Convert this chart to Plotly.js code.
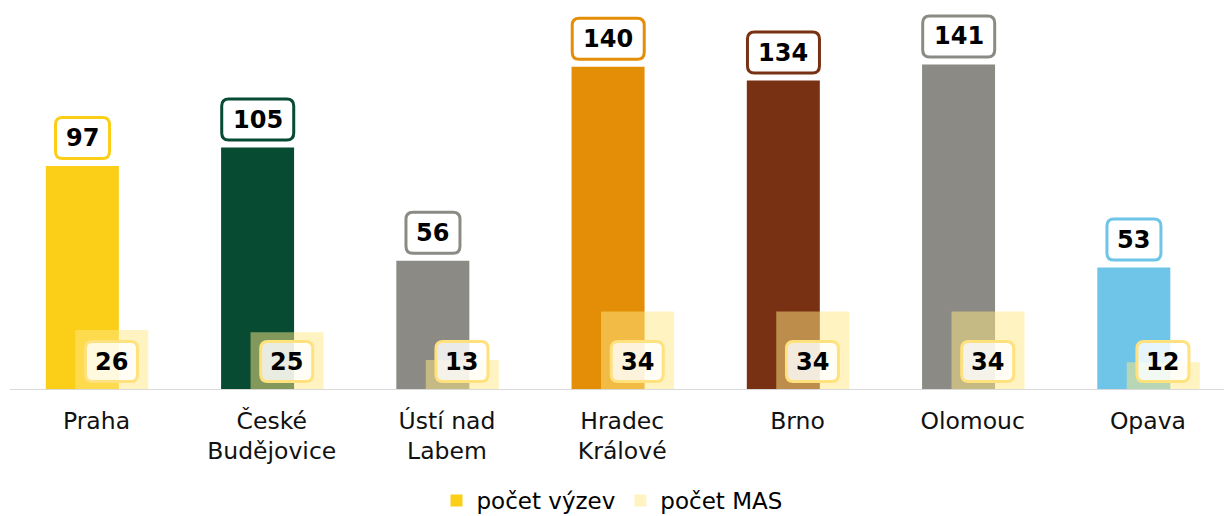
<!DOCTYPE html>
<html><head><meta charset="utf-8">
<script src="https://cdn.plot.ly/plotly-3.0.1.min.js"></script>
<style>html,body{margin:0;padding:0;background:#fff}#chart{width:1224px;height:516px}</style>
</head><body><div id="chart"></div>
<script>
const categories = ["Praha", "České<br>Budějovice", "Ústí nad<br>Labem", "Hradec<br>Králové", "Brno", "Olomouc", "Opava"];
const vyzev = [97, 105, 56, 140, 134, 141, 53];
const mas = [26, 25, 13, 34, 34, 34, 12];
const seriesNames = ["počet výzev", "počet MAS"];
const barColors = ["#FBCF17", "#064B32", "#8B8A84", "#E38E06", "#783213", "#8B8A84", "#6EC5E8"];
const masColor = "rgba(255,232,132,0.5)";
const masBorder = "#FFE27E";

const idx = categories.map((_, i) => i);
const font = "DejaVu Sans, Verdana, sans-serif";

function roundRect(cx, yb, w, h, r, s) {
  const x0 = cx - w/2 + s, x1 = cx + w/2 - s, y0 = yb + s, y1 = yb + h - s;
  return `M${x0+r},${y0} L${x1-r},${y0} Q${x1},${y0} ${x1},${y0+r} L${x1},${y1-r} Q${x1},${y1} ${x1-r},${y1} L${x0+r},${y1} Q${x0},${y1} ${x0},${y1-r} L${x0},${y0+r} Q${x0},${y0} ${x0+r},${y0} Z`;
}

const traces = [
  {type: "bar", name: seriesNames[0], x: idx, y: vyzev, marker: {color: barColors},
   width: 0.4166, offset: -0.289, hoverinfo: "none"},
  {type: "bar", name: seriesNames[1], x: idx, y: mas, marker: {color: masColor},
   width: 0.4166, offset: -0.121, hoverinfo: "none"}
];

const shapes = [
  {type: "line", xref: "paper", yref: "y", x0: 10/1224, x1: 1, y0: 0, y1: 0,
   line: {color: "#D9D9D9", width: 2}, layer: "above"}
];
const annotations = [];
vyzev.forEach((v, i) => {
  const w = String(v).length >= 3 ? 75 : 57;
  shapes.push({type: "path", xref: "x", yref: "y", xsizemode: "pixel", ysizemode: "pixel",
    xanchor: i, yanchor: v, path: roundRect(-14, 6, w, 44, 7, 1.5),
    fillcolor: "#FFFFFF", line: {color: barColors[i], width: 3}, layer: "above"});
  annotations.push({x: i, y: v, xref: "x", yref: "y", text: String(v), showarrow: false,
    xshift: -14, yshift: 28, yanchor: "middle", xanchor: "center",
    font: {family: font, size: 24, color: "#000", weight: "bold"}});
});
mas.forEach((v, i) => {
  shapes.push({type: "path", xref: "x", yref: "y", xsizemode: "pixel", ysizemode: "pixel",
    xanchor: i, yanchor: 0, path: roundRect(15, 7, 55, 43, 7, 1.5),
    fillcolor: "rgba(255,255,255,0.82)", line: {color: masBorder, width: 3}, layer: "above"});
  annotations.push({x: i, y: 0, xref: "x", yref: "y", text: String(v), showarrow: false,
    xshift: 15, yshift: 28.5, yanchor: "middle", xanchor: "center",
    font: {family: font, size: 24, color: "#000", weight: "bold"}});
});

const layout = {
  width: 1224, height: 516,
  margin: {l: 0, r: 0, t: 0, b: 126, pad: 0, autoexpand: false},
  paper_bgcolor: "#fff", plot_bgcolor: "#fff",
  barmode: "overlay",
  font: {family: font, color: "#000"},
  xaxis: {range: [-0.5506, 6.434], tickmode: "array", tickvals: idx, ticktext: categories,
    showgrid: false, zeroline: false, showline: false, ticks: "", automargin: false,
    ticklabelstandoff: 14,
    tickfont: {family: font, size: 23.5, color: "#111"}, fixedrange: true},
  yaxis: {range: [0, 168.9], visible: false, showgrid: false, zeroline: false, fixedrange: true},
  showlegend: true,
  legend: {orientation: "h", x: 0.5, xanchor: "center", yref: "container", y: 0.03, yanchor: "middle",
    font: {family: font, size: 23, color: "#000"}, traceorder: "normal"},
  shapes: shapes,
  annotations: annotations,
  hovermode: false
};
Plotly.newPlot("chart", traces, layout, {displayModeBar: false, staticPlot: true});
</script></body></html>
